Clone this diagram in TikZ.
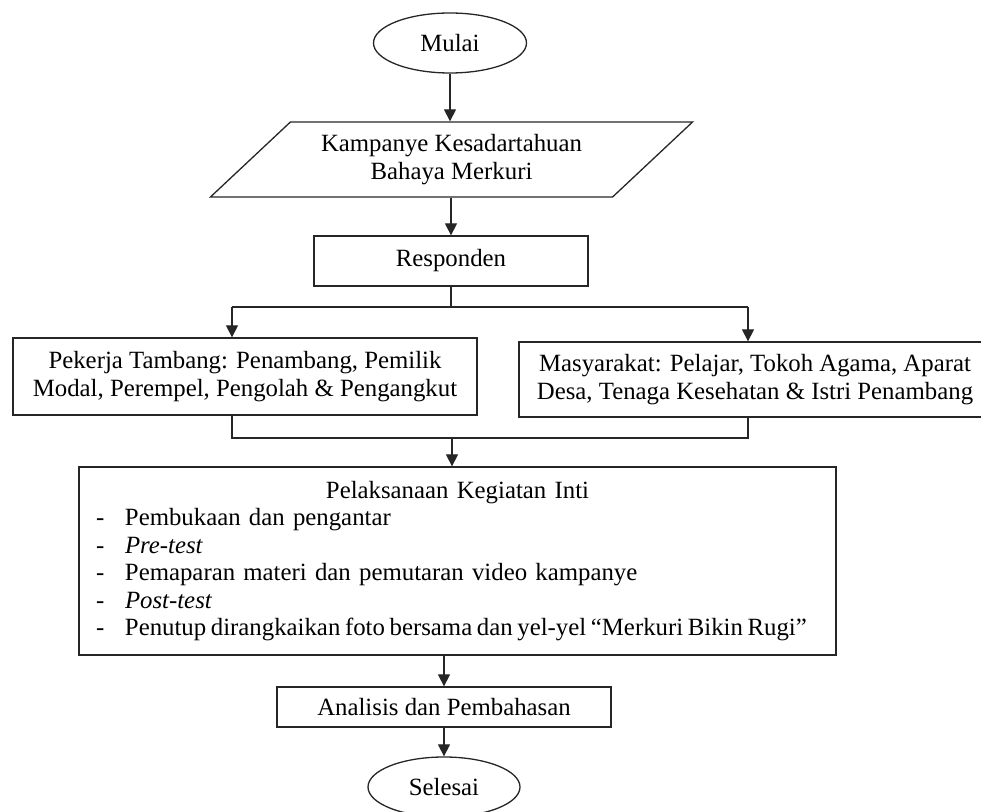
\documentclass[tikz,border=0pt]{standalone}
\usepackage{fontspec}
\setmainfont{Liberation Serif}
\usetikzlibrary{shapes.geometric,arrows.meta}

\newcommand\kitem[1]{\makebox[14.5pt][l]{-}\mbox{#1}\par}

\begin{document}
\begin{tikzpicture}[x=0.5pt, y=-0.5pt,
  font=\fontsize{12.4pt}{13.75pt}\selectfont,
  garis/.style={draw=black!85, line width=0.65pt},
  panah/.style={garis, -{Triangle[length=6pt,width=6pt]}},
  terminal/.style={garis, ellipse, inner sep=0pt, minimum width=76.5pt, minimum height=30pt},
  datain/.style={garis, trapezium, trapezium left angle=37.7, trapezium right angle=142.3,
    trapezium stretches=true, align=center, inner sep=0pt},
  kotak/.style={garis, rectangle, align=center, inner sep=0pt}]
\useasboundingbox (0,0) rectangle (981,812);
\clip (0,0) rectangle (981,812);

\node[terminal] (mulai) at (450,43) {Mulai};
\node[datain, minimum width=241.5pt, minimum height=37.5pt] (kampanye) at (451.5,159.5) {Kampanye Kesadartahuan\\Bahaya Merkuri};
\node[kotak, minimum width=137pt, minimum height=25pt] (responden) at (451,261) {Responden};
\node[kotak, minimum width=232pt, minimum height=38.5pt] (pekerja) at (245,376.5) {Pekerja Tambang: Penambang, Pemilik\\Modal, Perempel, Pengolah \& Pengangkut};
\node[kotak, minimum width=236pt, minimum height=37.5pt] (masyarakat) at (755,379.5) {Masyarakat: Pelajar, Tokoh Agama, Aparat\\Desa, Tenaga Kesehatan \& Istri Penambang};
\node[garis, rectangle, inner xsep=8.5pt, inner ysep=0pt, text width=361.5pt, minimum height=94pt] (inti) at (457.5,561) {%
  \centering Pelaksanaan Kegiatan Inti\par
  \raggedright
  \kitem{Pembukaan dan pengantar}
  \kitem{\textit{Pre-test}}
  \kitem{Pemaparan materi dan pemutaran video kampanye}
  \kitem{\textit{Post-test}}
  \kitem{\spaceskip=0.75\fontdimen2\font Penutup dirangkaikan foto bersama dan yel-yel “Merkuri Bikin Rugi”}};
\node[kotak, minimum width=167pt, minimum height=20pt] (analisis) at (444,707) {Analisis dan Pembahasan};
\node[terminal, minimum width=76pt] (selesai) at (444,787) {Selesai};

\coordinate (pisahL) at (232,307);
\coordinate (pisahR) at (748,307);
\coordinate (gabungL) at (232,438);
\coordinate (gabungR) at (748,438);
\coordinate (gabungM) at (452,438);

\draw[panah] (mulai.south) -- (mulai.south |- kampanye.north);
\draw[panah] (responden.north |- kampanye.south) -- (responden.north);
\draw[garis] (responden.south) -- (responden.south |- pisahL);
\draw[garis] (pisahL) -- (pisahR);
\draw[panah] (pisahL) -- (pisahL |- pekerja.north);
\draw[panah] (pisahR) -- (pisahR |- masyarakat.north);
\draw[garis] (pekerja.south -| gabungL) -- (gabungL) -- (gabungR) -- (masyarakat.south -| gabungR);
\draw[panah] (gabungM) -- (gabungM |- inti.north);
\draw[panah] (inti.south -| analisis.north) -- (analisis.north);
\draw[panah] (analisis.south) -- (selesai.north);
\end{tikzpicture}
\end{document}
